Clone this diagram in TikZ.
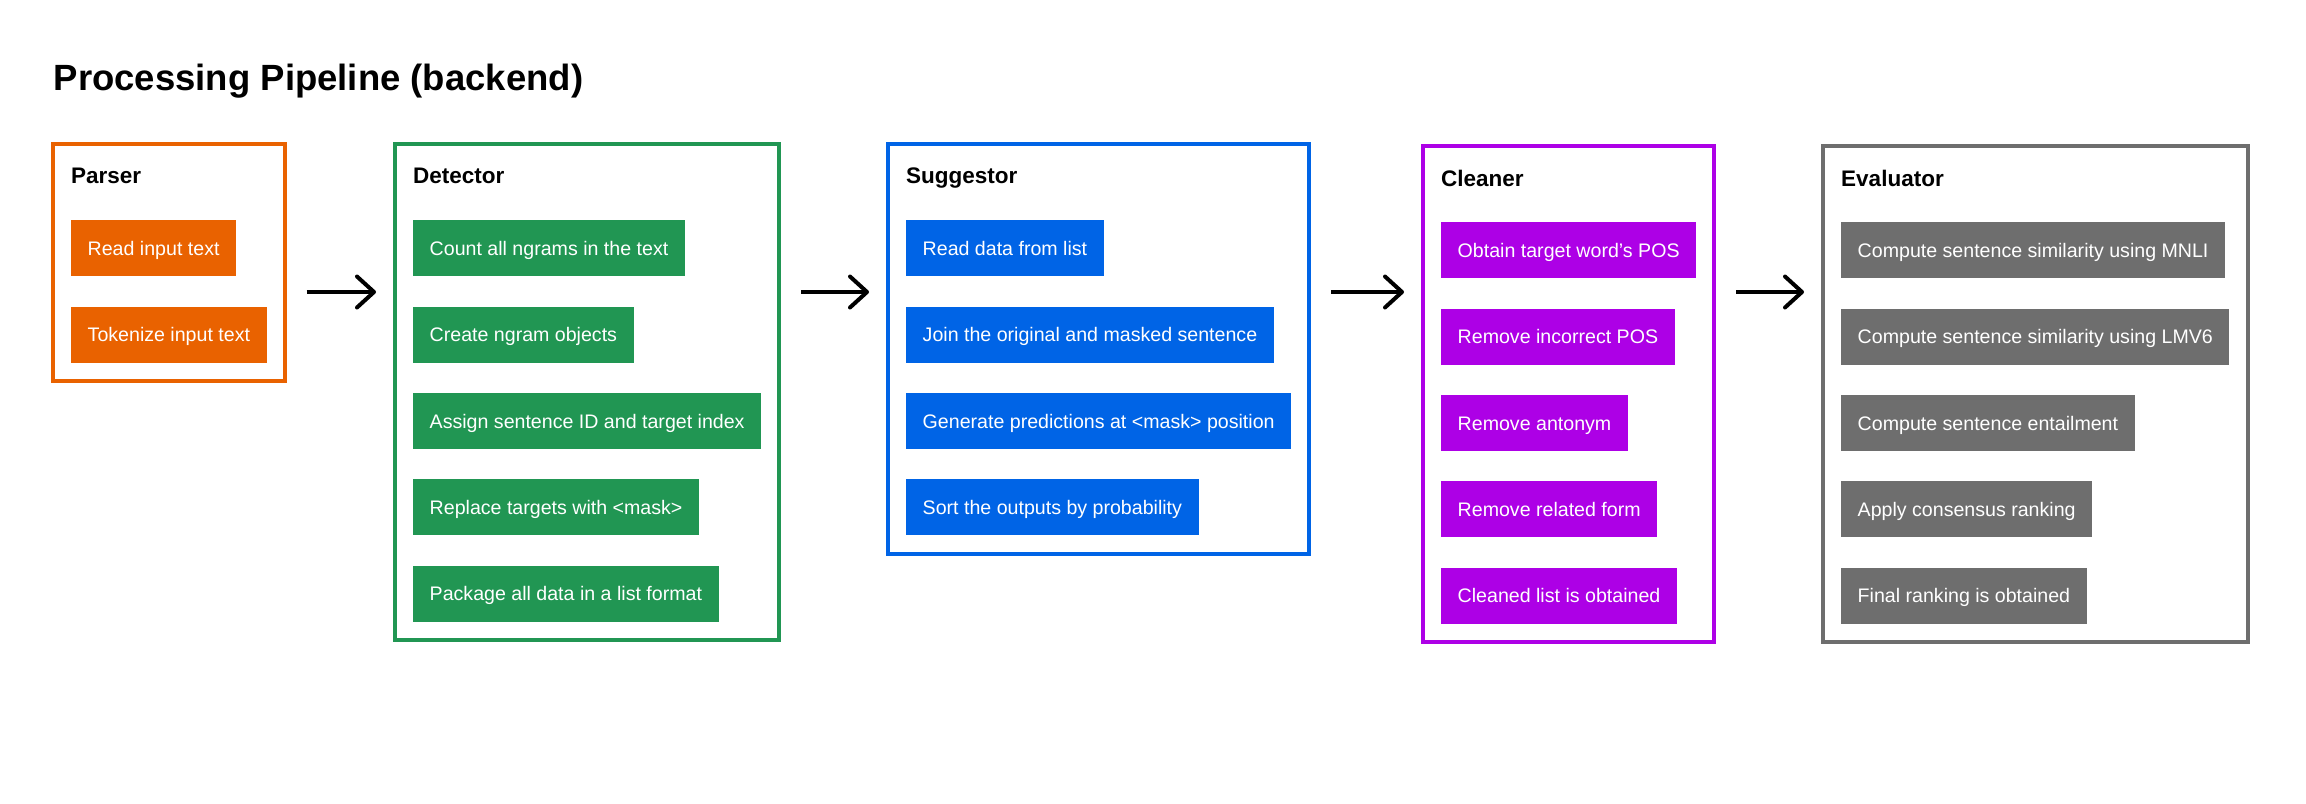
\documentclass[tikz,border=0pt]{standalone}
\usepackage{fontspec}
\setmainfont{Liberation Sans}
\usetikzlibrary{positioning,fit,arrows.meta}

\definecolor{parserorange}{HTML}{E96200}
\definecolor{detectorgreen}{HTML}{219653}
\definecolor{suggestorblue}{HTML}{0064E6}
\definecolor{cleanerpurple}{HTML}{AD00E6}
\definecolor{evalgray}{HTML}{6E6E6E}

\begin{document}
\begin{tikzpicture}[x=1pt,y=-1pt,
  item/.style={fill=#1,text=white,inner xsep=16.5pt,inner ysep=0pt,minimum height=56pt,text height=14pt,text depth=0pt,font=\fontsize{19.6}{24}\selectfont},
  stage/.style={anchor=west,inner xsep=0pt,inner ysep=6pt,text height=16pt,text depth=0pt,font=\fontsize{22.5}{27}\selectfont\bfseries},
  frame/.style={draw=#1,line width=4pt,inner sep=18pt},
  flow/.style={line width=4pt,-{Straight Barb[length=17pt,width=31pt,round]},shorten <=20pt,shorten >=17pt}]
\useasboundingbox (0,0) rectangle (2306,803);

% Title
\node[anchor=base west,inner sep=0pt,font=\fontsize{36.5}{44}\selectfont\bfseries] (title) at (53.6,90) {Processing Pipeline (backend)};

% Parser
\node[stage] (parser-head) at (71,175.7) {Parser};
\node[item=parserorange,anchor=north west] (p1) at (71,220) {Read input text};
\node[item=parserorange,below=30pt of p1.south west,anchor=north west] (p2) {Tokenize input text};
\node[frame=parserorange,fit=(parser-head)(p1)(p2)] (parser) {};

% Detector
\node[stage] (detector-head) at (413,175.7) {Detector};
\node[item=detectorgreen,anchor=north west] (d1) at (413,220) {Count all ngrams in the text};
\node[item=detectorgreen,below=30pt of d1.south west,anchor=north west] (d2) {Create ngram objects};
\node[item=detectorgreen,below=30pt of d2.south west,anchor=north west] (d3) {Assign sentence ID and target index};
\node[item=detectorgreen,below=30pt of d3.south west,anchor=north west] (d4) {Replace targets with <mask>};
\node[item=detectorgreen,below=30pt of d4.south west,anchor=north west] (d5) {Package all data in a list format};
\node[frame=detectorgreen,fit=(detector-head)(d1)(d2)(d3)(d4)(d5)] (detector) {};

% Suggestor
\node[stage] (suggestor-head) at (906,175.7) {Suggestor};
\node[item=suggestorblue,anchor=north west] (s1) at (906,220) {Read data from list};
\node[item=suggestorblue,below=30pt of s1.south west,anchor=north west] (s2) {Join the original and masked sentence};
\node[item=suggestorblue,below=30pt of s2.south west,anchor=north west] (s3) {Generate predictions at <mask> position};
\node[item=suggestorblue,below=30pt of s3.south west,anchor=north west] (s4) {Sort the outputs by probability};
\node[frame=suggestorblue,fit=(suggestor-head)(s1)(s2)(s3)(s4)] (suggestor) {};

% Cleaner
\node[stage] (cleaner-head) at (1441,178) {Cleaner};
\node[item=cleanerpurple,anchor=north west] (c1) at (1441,222) {Obtain target word’s POS};
\node[item=cleanerpurple,below=30pt of c1.south west,anchor=north west] (c2) {Remove incorrect POS};
\node[item=cleanerpurple,below=30pt of c2.south west,anchor=north west] (c3) {Remove antonym};
\node[item=cleanerpurple,below=30pt of c3.south west,anchor=north west] (c4) {Remove related form};
\node[item=cleanerpurple,below=30pt of c4.south west,anchor=north west] (c5) {Cleaned list is obtained};
\node[frame=cleanerpurple,fit=(cleaner-head)(c1)(c2)(c3)(c4)(c5)] (cleaner) {};

% Evaluator
\node[stage] (evaluator-head) at (1841,178) {Evaluator};
\node[item=evalgray,anchor=north west] (e1) at (1841,222) {Compute sentence similarity using MNLI};
\node[item=evalgray,below=30pt of e1.south west,anchor=north west] (e2) {Compute sentence similarity using LMV6};
\node[item=evalgray,below=30pt of e2.south west,anchor=north west] (e3) {Compute sentence entailment};
\node[item=evalgray,below=30pt of e3.south west,anchor=north west] (e4) {Apply consensus ranking};
\node[item=evalgray,below=30pt of e4.south west,anchor=north west] (e5) {Final ranking is obtained};
\node[frame=evalgray,fit=(evaluator-head)(e1)(e2)(e3)(e4)(e5)] (evaluator) {};

% Arrows between stages
\coordinate (axis) at (0,292);
\draw[flow] (parser.east |- axis) -- (detector.west |- axis);
\draw[flow] (detector.east |- axis) -- (suggestor.west |- axis);
\draw[flow] (suggestor.east |- axis) -- (cleaner.west |- axis);
\draw[flow] (cleaner.east |- axis) -- (evaluator.west |- axis);
\end{tikzpicture}
\end{document}
